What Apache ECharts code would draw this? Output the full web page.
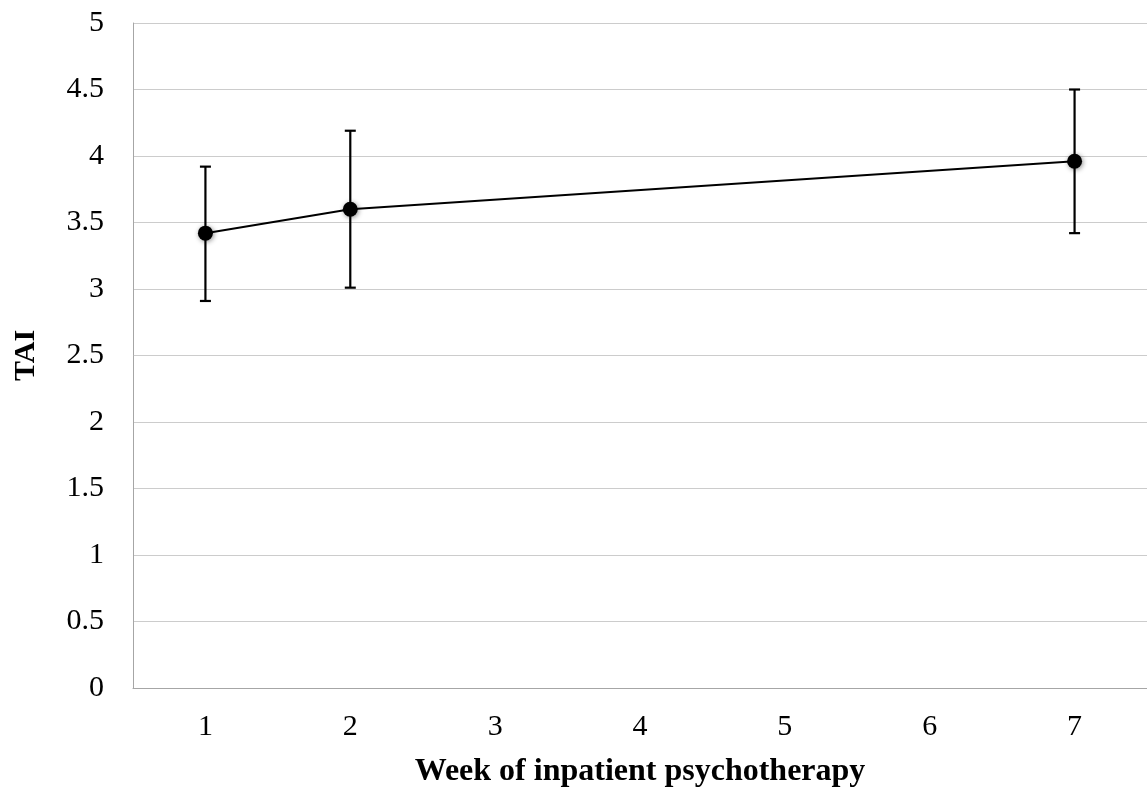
<!DOCTYPE html>
<html><head><meta charset="utf-8">
<script src="https://cdn.jsdelivr.net/npm/echarts@6/dist/echarts.min.js"></script>
<style>html,body{margin:0;padding:0;background:#fff}#c{width:1147px;height:793px}</style>
</head><body><div id="c"></div>
<script>
var weeks = ['1','2','3','4','5','6','7'];
var means = [3.42, 3.60, null, null, null, null, 3.96];
var upper = [3.92, 4.19, null, null, null, null, 4.50];
var lower = [2.91, 3.01, null, null, null, null, 3.42];
var yTicks = [0, 0.5, 1, 1.5, 2, 2.5, 3, 3.5, 4, 4.5, 5];

var errData = [];
for (var i = 0; i < weeks.length; i++) {
  if (means[i] != null) errData.push([i, lower[i], upper[i]]);
}
var chart = echarts.init(document.getElementById('c'));
var font = 'Liberation Serif';
chart.setOption({
  animation: false,
  grid: {left: 133, top: 23, width: 1016, bottom: 103, containLabel: false},
  xAxis: {
    type: 'category', data: weeks, boundaryGap: true,
    name: 'Week of inpatient psychotherapy', nameLocation: 'middle', nameGap: 68,
    nameTextStyle: {fontFamily: font, fontWeight: 'bold', fontSize: 32, color: '#000'},
    axisLine: {lineStyle: {color: '#a6a6a6', width: 1}},
    axisTick: {alignWithLabel: true, length: 7, lineStyle: {color: '#a6a6a6'}},
    axisLabel: {fontFamily: font, fontSize: 30, color: '#000', margin: 24},
    splitLine: {show: false}
  },
  yAxis: {
    type: 'value', min: 0, max: 5, interval: 0.5,
    name: 'TAI', nameLocation: 'middle', nameGap: 92, nameRotate: 90,
    nameTextStyle: {fontFamily: font, fontWeight: 'bold', fontSize: 30, color: '#000'},
    axisLine: {show: true, lineStyle: {color: '#a6a6a6', width: 1}},
    axisTick: {show: false},
    axisLabel: {fontFamily: font, fontSize: 30, color: '#000', margin: 29,
      formatter: function (v) { return yTicks.indexOf(v) >= 0 ? String(v) : ''; }},
    splitLine: {lineStyle: {color: '#cccccc', width: 1}}
  },
  series: [
    {
      type: 'custom',
      data: errData,
      z: 2,
      renderItem: function (params, api) {
        var x = api.value(0);
        var lo = api.coord([x, api.value(1)]);
        var hi = api.coord([x, api.value(2)]);
        var hw = 5.5;
        var st = {stroke: '#000', lineWidth: 2.2};
        return {type: 'group', children: [
          {type: 'line', shape: {x1: lo[0], y1: lo[1], x2: hi[0], y2: hi[1]}, style: st},
          {type: 'line', shape: {x1: lo[0] - hw, y1: lo[1], x2: lo[0] + hw, y2: lo[1]}, style: st},
          {type: 'line', shape: {x1: hi[0] - hw, y1: hi[1], x2: hi[0] + hw, y2: hi[1]}, style: st}
        ]};
      }
    },
    {
      type: 'line',
      data: means,
      connectNulls: true,
      z: 3,
      symbol: 'circle', symbolSize: 15,
      lineStyle: {color: '#000', width: 2},
      itemStyle: {color: '#000', shadowBlur: 5, shadowColor: 'rgba(0,0,0,0.45)', shadowOffsetX: 1, shadowOffsetY: 1}
    }
  ]
});
</script></body></html>
